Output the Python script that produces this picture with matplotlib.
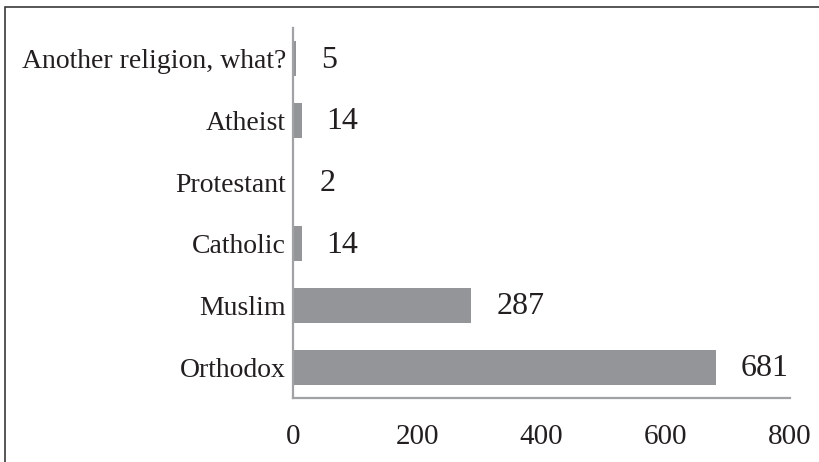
import matplotlib
matplotlib.use("Agg")
import matplotlib.pyplot as plt
from matplotlib.patches import Rectangle

categories = ["Orthodox", "Muslim", "Catholic", "Protestant", "Atheist", "Another religion, what?"]
counts = [681, 287, 14, 2, 14, 5]
x_ticks = [0, 200, 400, 600, 800]

plt.rcParams['font.family'] = ['Liberation Serif', 'DejaVu Serif']

BAR = '#939598'
TXT = '#231f20'

fig = plt.figure(figsize=(8.2, 4.62), dpi=100)
ax = fig.add_axes([293 / 820, 1 - 398 / 462, (790 - 293) / 820, (398 - 28) / 462])

ypos = list(range(len(categories)))
ax.barh(ypos, counts, height=0.57, color=BAR, zorder=2)

for y, v in zip(ypos, counts):
    ax.annotate(str(v), xy=(v, y), xytext=(18, -1), textcoords='offset points',
                ha='left', va='center', fontsize=23, color=TXT)

ax.set_xlim(0, 800)
ax.set_ylim(-0.5, len(categories) - 0.5)
ax.set_xticks(x_ticks)
ax.set_yticks(ypos)
ax.set_yticklabels(categories)
ax.tick_params(axis='x', length=0, pad=19, labelsize=21, labelcolor=TXT)
ax.tick_params(axis='y', length=0, pad=5, labelsize=20, labelcolor=TXT)

for side in ['top', 'right']:
    ax.spines[side].set_visible(False)
for side in ['left', 'bottom']:
    ax.spines[side].set_color('#a0a2a5')
    ax.spines[side].set_linewidth(1.6)

# outer frame (only top and left edges fall inside the picture)
top = 1 - 7 / 462
fig.add_artist(Rectangle((5 / 820, -0.2), 1.5, top + 0.2,
                         transform=fig.transFigure, fill=False,
                         edgecolor='#3a3a3a', linewidth=1.2))

fig.savefig('out.png', dpi=100, facecolor='white')
